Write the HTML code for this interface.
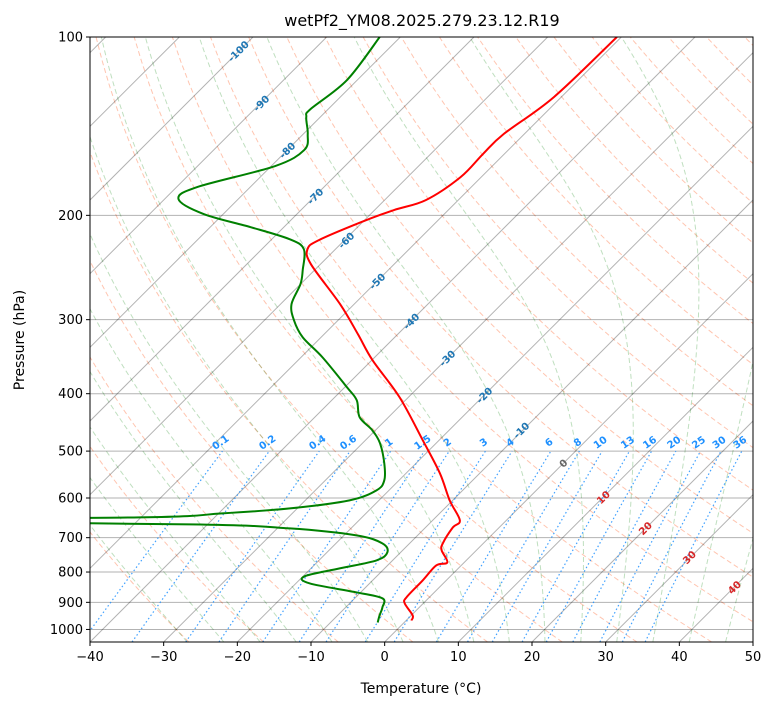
<!DOCTYPE html>
<html><head><meta charset="utf-8"><style>
body{margin:0;background:#fff;}
svg text{font-family:"DejaVu Sans","Liberation Sans",sans-serif;}
</style></head><body>
<svg id="chart" width="775" height="708" xmlns="http://www.w3.org/2000/svg">
<defs><clipPath id="clip"><rect x="90" y="37" width="663" height="605"/></clipPath></defs>
<rect width="775" height="708" fill="#fff"/>
<text x="422" y="26" font-size="16" text-anchor="middle">wetPf2_YM08.2025.279.23.12.R19</text>
<g id="bg" clip-path="url(#clip)"></g>
<g id="labels"></g>
<g id="data" clip-path="url(#clip)"></g>
<rect x="90" y="37" width="663" height="605" fill="none" stroke="#000" stroke-width="1"/>
<g id="axes"></g>
<text x="421" y="693" font-size="14" text-anchor="middle">Temperature (°C)</text>
<text x="24" y="340" font-size="14" text-anchor="middle" transform="rotate(-90 24 340)">Pressure (hPa)</text>
</svg>
<script>
const tempP=[100,126.3,145.8,157.6,172.4,188.5,196,205.4,220.3,228.1,241.8,282.5,317.5,351.2,405.6,479.5,545.1,605.5,654.5,672.6,715.7,735.4,770.6,779.7,826.5,883,904,947,965.7];
const tempT=[-50.6,-51.0,-52.8,-52.9,-52.8,-54.4,-57.4,-60.2,-63.5,-63.8,-61.3,-51.9,-45.4,-39.9,-31.2,-22.2,-15.4,-10.4,-6.3,-6.3,-5.5,-4.7,-2.3,-3.4,-3.2,-3.1,-2.5,0.2,0.7];
const dewP=[100,118.2,132.3,136.5,145.8,155.2,165.2,179.2,187.8,199.1,209.4,219.4,228.1,247.5,261.4,282.5,300.6,321.2,347.2,390.1,410.4,438.4,461.2,485.1,524.4,560.1,582.4,605.5,624.7,636.9,646.9,653.3,664.8,675.2,693.8,715.7,741.2,764.6,788.8,813.8,836.3,866,886.4,918,947,973.2];
const dewT=[-82.8,-81.4,-82.4,-81.9,-79.4,-77.7,-79.5,-87.2,-88.1,-82.6,-74.5,-67.6,-64.3,-61.6,-60.0,-58.5,-56.0,-52.5,-47.1,-39.7,-36.6,-33.9,-30.4,-27.6,-24.3,-22.0,-21.7,-24.0,-31.0,-39.5,-50.2,-95,-42.4,-28.3,-18.3,-13.7,-11.8,-12.2,-16.1,-19.8,-18.1,-10.5,-6.2,-5.0,-4.3,-3.6];
const pTicks=[100,200,300,400,500,600,700,800,900,1000];
const tTicks=[-40,-30,-20,-10,0,10,20,30,40,50];
const mixRatios=[0.1,0.2,0.4,0.6,1,1.5,2,3,4,6,8,10,13,16,20,25,30,36];

const X0=90,X1=753,Y0=37,Y1=642,PTOP=100,PBOT=1050;
const K=(Y1-Y0)/Math.log(PBOT/PTOP);
const SX=(X1-X0)/90;
function py(p){return Y0+K*Math.log(p/PTOP);}
function tx(t,p){return X0+(t+40)*SX+(Y1-py(p));}
const NS='http://www.w3.org/2000/svg';
function mk(tag,attrs,parent){const e=document.createElementNS(NS,tag);for(const k in attrs)e.setAttribute(k,attrs[k]);parent.appendChild(e);return e;}
const bg=document.getElementById('bg'),dg=document.getElementById('data'),ax=document.getElementById('axes'),lb=document.getElementById('labels');
function pathOf(ts,ps){return ts.map((t,i)=>(i?'L':'M')+tx(t,ps[i]).toFixed(2)+' '+py(ps[i]).toFixed(2)).join('');}
function smoothOf(ts,ps){const P=ts.map((t,i)=>[tx(t,ps[i]),py(ps[i])]);let d='M'+P[0][0].toFixed(2)+' '+P[0][1].toFixed(2);
 for(let i=0;i<P.length-1;i++){const p0=P[Math.max(0,i-1)],p1=P[i],p2=P[i+1],p3=P[Math.min(P.length-1,i+2)];
  const c1=[p1[0]+(p2[0]-p0[0])/6,p1[1]+(p2[1]-p0[1])/6],c2=[p2[0]-(p3[0]-p1[0])/6,p2[1]-(p3[1]-p1[1])/6];
  d+='C'+c1.map(v=>v.toFixed(2)).join(' ')+' '+c2.map(v=>v.toFixed(2)).join(' ')+' '+p2[0].toFixed(2)+' '+p2[1].toFixed(2);}
 return d;}
const plev=[];for(let p=1050;p>=100;p-=10)plev.push(p);

for(let th=-30;th<=200;th+=10){const ts=plev.map(p=>(th+273.15)*Math.pow(p/1000,0.2857)-273.15);
 const e=mk('path',{d:pathOf(ts,plev),fill:'none',stroke:'rgba(255,127,80,0.45)','stroke-width':1,'stroke-dasharray':'5,3'},bg);
 
 }
function es(t){return 6.112*Math.exp(17.67*t/(t+243.5));}
function dTdp(T,p){const Tk=T+273.15;const rs=0.622*es(T)/(p-es(T));const Lv=2.501e6,Rd=287.04,cp=1005.7;
 return (Rd*Tk+Lv*rs)/(cp+Lv*Lv*rs*0.622/(Rd*Tk*Tk))/p;}
for(let t0=-30;t0<=45;t0+=5){const ps=[],ts=[];
 let Td=t0;for(let p=1000;p<1050;p+=5){Td+=dTdp(Td,p)*5;}
 let T=Td;for(let p=1050;p>=100;p-=5){ps.push(p);ts.push(T);T-=dTdp(T,p)*5;}
 const e=mk('path',{d:pathOf(ts,ps),fill:'none',stroke:'rgba(0,128,0,0.25)','stroke-width':1,'stroke-dasharray':'5,3'},bg);
 
 }
for(let t=-140;t<=60;t+=10){const e=mk('line',{x1:tx(t,PBOT),y1:Y1,x2:tx(t,PTOP),y2:Y0,stroke:'rgba(0,0,0,0.3)','stroke-width':1},bg);
 
 }
pTicks.forEach(p=>{const e=mk('line',{x1:X0,x2:X1,y1:py(p),y2:py(p),stroke:'rgba(0,0,0,0.3)','stroke-width':1},bg);
 
 });
mixRatios.forEach(w=>{const ps=[],ts=[];for(let p=1050;p>=500;p-=10){const e=p*w/(622+w);const l=Math.log(e/6.112);ps.push(p);ts.push(243.5*l/(17.67-l));}
 const e=mk('path',{d:pathOf(ts,ps),fill:'none',stroke:'rgba(30,144,255,0.85)','stroke-width':1.2,'stroke-dasharray':'1.5,2.5'},bg);
 
 
 const l=Math.log(500*w/(622+w)/6.112);const x=tx(243.5*l/(17.67-l),500);
 const t=mk('text',{x:x,y:py(500)-6,'font-size':10,'font-weight':'bold',fill:'#1e90ff','text-anchor':'middle',transform:`rotate(-35 ${x} ${py(500)-6})`},lb);
 t.textContent=w;
 
 });
const blueLab=[[-100,238,51],[-90,261,103],[-80,287,150],[-70,315,196],[-60,346,240],[-50,377,281],[-40,411,321],[-30,447,358],[-20,484,395],[-10,521,430]];
blueLab.forEach(a=>{const t=mk('text',{x:a[1],y:a[2]+4,'font-size':10,'font-weight':'bold',fill:'#1f77b4','text-anchor':'middle',transform:`rotate(-45 ${a[1]} ${a[2]})`},lb);t.textContent=a[0];
 
 });
const redLab=[[0,563,463,'#666'],[10,603,497,'#d62728'],[20,645,528,'#d62728'],[30,689,557,'#d62728'],[40,734,587,'#d62728']];
redLab.forEach(a=>{const t=mk('text',{x:a[1],y:a[2]+4,'font-size':10,'font-weight':'bold',fill:a[3],'text-anchor':'middle',transform:`rotate(-45 ${a[1]} ${a[2]})`},lb);t.textContent=a[0];
 
 });
let e=mk('path',{d:smoothOf(tempT,tempP),fill:'none',stroke:'#ff0000','stroke-width':2,'stroke-linejoin':'round'},dg);


e=mk('path',{d:smoothOf(dewT,dewP),fill:'none',stroke:'#008000','stroke-width':2,'stroke-linejoin':'round'},dg);


pTicks.forEach(p=>{const y=py(p);mk('line',{x1:X0-4,x2:X0,y1:y,y2:y,stroke:'#000'},ax);
 const t=mk('text',{x:X0-7,y:y+4.5,'font-size':13,'text-anchor':'end'},ax);t.textContent=p;
 
 });
tTicks.forEach(v=>{const x=X0+(v+40)*SX;mk('line',{x1:x,x2:x,y1:Y1,y2:Y1+4,stroke:'#000'},ax);
 const t=mk('text',{x:x,y:Y1+19,'font-size':13,'text-anchor':'middle'},ax);t.textContent=(v<0?'\u2212'+(-v):v);
 
 });
</script>
</body></html>
